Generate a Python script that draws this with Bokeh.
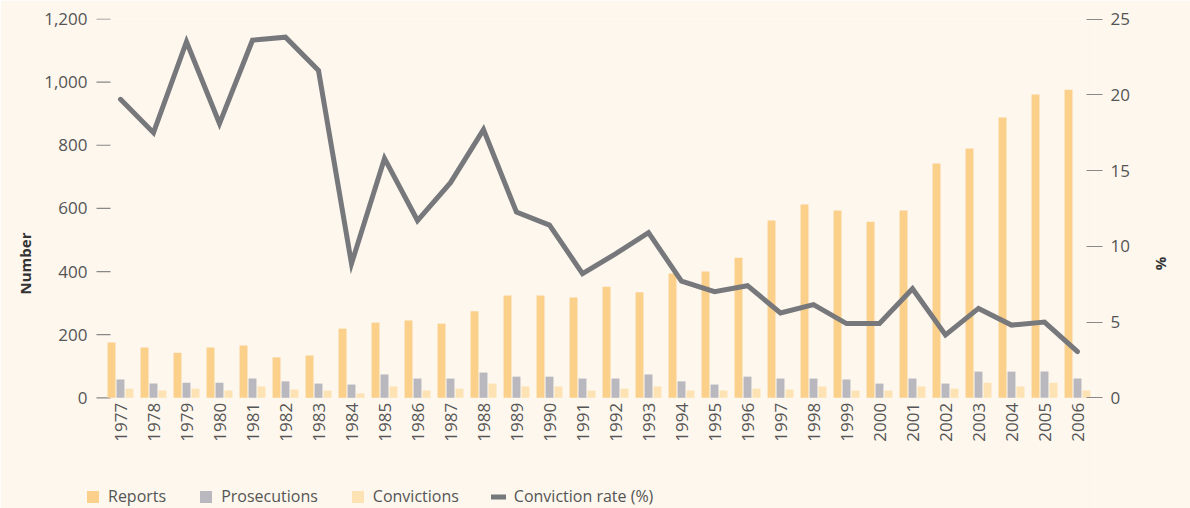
import numpy as np
from bokeh.plotting import figure
from bokeh.models import (ColumnDataSource, Range1d, LinearAxis, FixedTicker,
                          NumeralTickFormatter, Legend, LegendItem, Title)
from bokeh.core.properties import value
from bokeh.transform import dodge
from bokeh.embed import file_html
from bokeh.resources import INLINE

years = list(range(1977, 2007))
year_labels = [str(y) for y in years]
reports = [175, 159, 143, 159, 166, 128, 134, 219, 238, 245, 235, 274, 324, 324, 318,
           352, 334, 394, 400, 444, 562, 612, 593, 558, 593, 742, 790, 888, 961, 976]
prosecutions = [58, 45, 48, 48, 61, 52, 45, 42, 74, 61, 61, 80, 67, 67, 61,
                61, 74, 52, 42, 67, 61, 61, 58, 45, 61, 45, 83, 83, 83, 61]
convictions = [29, 23, 29, 23, 36, 26, 23, 14, 36, 23, 29, 45, 36, 36, 23,
               29, 36, 23, 23, 29, 26, 36, 23, 23, 36, 29, 48, 36, 48, 23]
conviction_rate = [19.7, 17.5, 23.5, 18.1, 23.6, 23.8, 21.6, 8.85, 15.8, 11.7, 14.2, 17.7,
                   12.25, 11.4, 8.2, 9.5, 10.9, 7.7, 7.0, 7.4, 5.6, 6.15, 4.9, 4.9, 7.2,
                   4.15, 5.9, 4.8, 5.0, 3.05]
left_ticks = [0, 200, 400, 600, 800, 1000, 1200]
right_ticks = [0, 5, 10, 15, 20, 25]

BG = "#fdf7ee"
C_REP = "#fbd08b"
C_PRO = "#b8b8be"
C_CON = "#fde2b3"
C_LINE = "#77787b"
TICK = "#888888"
TXT = "#555555"
FONT = "Open Sans"

# layout geometry (pixels)
PX_PER_YEAR = 33.0
FRAME_H = 490
ZERO_FROM_TOP = 379.3          # pixel distance from frame top to value 0
UNIT = 378.8 / 1200.0          # pixels per count
X0 = 1977 - 35 / PX_PER_YEAR
X1 = 2006 + 17 / PX_PER_YEAR
Y_END = 1200 + (ZERO_FROM_TOP - 378.8) / UNIT
Y_START = -(FRAME_H - ZERO_FROM_TOP) / UNIT
PCT = 25.0 / 1200.0

src = ColumnDataSource(dict(year=years, label=year_labels, reports=reports,
                            prosecutions=prosecutions, convictions=convictions,
                            rate=conviction_rate))
tsrc = ColumnDataSource(dict(y=left_ticks,
                             x0=[X0 + 11 / PX_PER_YEAR] * len(left_ticks),
                             x1=[X0 + 25 / PX_PER_YEAR] * len(left_ticks)))

p = figure(frame_width=1009, frame_height=FRAME_H, output_backend="svg",
           toolbar_location=None, x_axis_location=None,
           x_range=Range1d(X0, X1), y_range=Range1d(Y_START, Y_END),
           min_border_left=85, min_border_right=90, min_border_top=18,
           min_border_bottom=0, background_fill_color=BG, border_fill_color=BG,
           outline_line_color=None)
p.grid.visible = False
p.extra_y_ranges = {"pct": Range1d(Y_START * PCT, Y_END * PCT)}

w = 0.24
off = 0.272
p.segment(x0="x0", y0="y", x1="x1", y1="y", source=tsrc, line_color=TICK, line_width=1.2)
r1 = p.vbar(x=dodge("year", -off), top="reports", width=w, source=src,
            fill_color=C_REP, line_color=None)
r2 = p.vbar(x=dodge("year", 0.0), top="prosecutions", width=w, source=src,
            fill_color=C_PRO, line_color=None)
r3 = p.vbar(x=dodge("year", off), top="convictions", width=w, source=src,
            fill_color=C_CON, line_color=None)
r4 = p.line(x="year", y="rate", source=src, y_range_name="pct", line_color=C_LINE,
            line_width=5, line_join="miter", line_cap="round")

# year labels (category axis text)
p.text(x="year", y=-5 / UNIT, text="label", source=src, angle=np.pi / 2,
       text_align="right", text_baseline="middle", text_font=value(FONT),
       text_font_size="17px", text_color=TXT)

# left axis
ya = p.yaxis[0]
ya.ticker = FixedTicker(ticks=left_ticks)
ya.formatter = NumeralTickFormatter(format="0,0")
ya.axis_line_color = None
ya.major_tick_line_color = None
ya.major_tick_out = 0
ya.major_tick_in = 0
ya.minor_tick_line_color = None
ya.major_label_standoff = -2
ya.major_label_text_font = FONT
ya.major_label_text_font_size = "17px"
ya.major_label_text_color = TXT

ra = LinearAxis(y_range_name="pct", ticker=FixedTicker(ticks=right_ticks))
ra.axis_line_color = None
ra.major_tick_line_color = TICK
ra.major_tick_line_width = 1.2
ra.major_tick_out = 8
ra.major_tick_in = 8
ra.minor_tick_line_color = None
ra.major_label_standoff = 8
ra.major_label_text_font = FONT
ra.major_label_text_font_size = "17px"
ra.major_label_text_color = TXT
p.add_layout(ra, "right")

# axis titles, centred on the 0..1200 span rather than the whole frame
p.add_layout(Title(text="Number", align="center", offset=55, standoff=14,
                   text_font=FONT, text_font_size="15px", text_font_style="bold",
                   text_color="#333333"), "left")
p.add_layout(Title(text="%", align="center", offset=-55, standoff=38,
                   text_font=FONT, text_font_size="15px", text_font_style="bold",
                   text_color="#333333"), "right")

legend = Legend(items=[LegendItem(label="Reports", renderers=[r1]),
                       LegendItem(label="Prosecutions", renderers=[r2]),
                       LegendItem(label="Convictions", renderers=[r3]),
                       LegendItem(label="Conviction rate (%)", renderers=[r4])],
                orientation="horizontal", location=(0, 1),
                background_fill_alpha=0, border_line_alpha=0, padding=0, margin=0,
                glyph_width=15, glyph_height=15, label_standoff=8, spacing=32,
                label_text_font=FONT, label_text_font_size="16px",
                label_text_color=TXT, label_height=15)
p.add_layout(legend, "center")

html = file_html(p, INLINE)
html = html.replace("<body>", '<body style="background:%s">' % BG, 1)
open("out.html", "w").write(html)
